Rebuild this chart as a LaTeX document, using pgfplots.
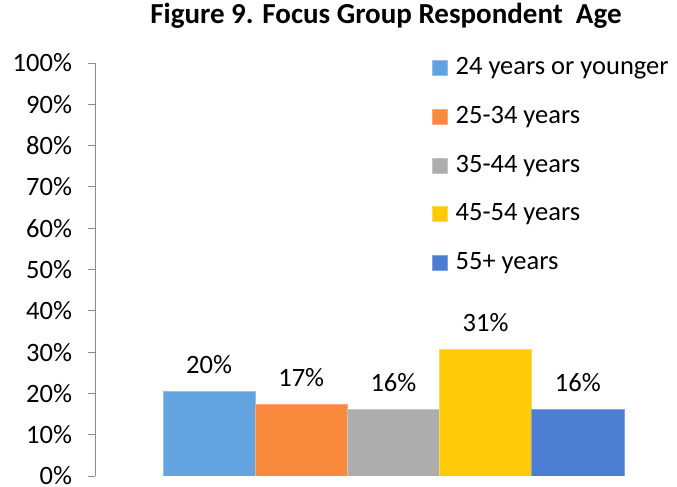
\documentclass[border=0pt]{standalone}
\usepackage{fontspec}
\setmainfont{Carlito}
\usepackage{pgfplots}
\pgfplotsset{compat=1.18}

\definecolor{cA}{HTML}{62A3E0}
\definecolor{cB}{HTML}{F9893C}
\definecolor{cC}{HTML}{ADADAD}
\definecolor{cD}{HTML}{FFCA08}
\definecolor{cE}{HTML}{4D7DD0}
\definecolor{axgray}{HTML}{8C8C8C}

\begin{document}
\fontsize{26.5bp}{31bp}\selectfont
\begin{tikzpicture}
\useasboundingbox (-95bp,-11bp) rectangle (582bp,476bp);
\begin{axis}[
    scale only axis,
    width=575bp, height=413bp,
    ybar, bar width=1, bar shift=0pt,
    xmin=-1.2375, xmax=5.0,
    ymin=0, ymax=100,
    axis x line=none,
    axis y line*=left,
    y axis line style={axgray, line width=0.9bp},
    ytick={0,10,...,100},
    yticklabel={\pgfmathprintnumber{\tick}\%},
    yticklabel style={xshift=-7bp},
    major tick length=7bp,
    tick align=outside,
    y tick style={axgray, line width=0.9bp},
    tick label style={font=\fontsize{26.5bp}{31bp}\selectfont},
    /pgf/number format/assume math mode=true,
    nodes near coords={\pgfmathprintnumber[fixed,precision=0]{\pgfplotspointmeta}\%},
    every node near coord/.append style={font=\fontsize{26.5bp}{31bp}\selectfont, black, anchor=base, yshift=18.5bp},
    title={\bfseries Figure 9. Focus Group Respondent \ Age},
    title style={at={(0.506,1.080)}, anchor=base, inner sep=0pt, font=\fontsize{29bp}{34bp}\selectfont},
    legend image code/.code={\fill[#1] (0bp,-7.5bp) rectangle (15bp,7.5bp); \path (21bp,0bp);},
    legend style={at={(0.586,1.018)}, anchor=north west, draw=none, fill=none,
        font=\fontsize{26.5bp}{31bp}\selectfont, row sep=23.5bp,
        inner sep=0pt, outer sep=0pt},
    legend cell align=left,
]
\addplot[fill=cA, draw=cA!70!white, line width=0.7bp] coordinates {(0,20.4)};
\addplot[fill=cB, draw=cB!70!white, line width=0.7bp] coordinates {(1,17.3)};
\addplot[fill=cC, draw=cC!70!white, line width=0.7bp] coordinates {(2,16.1)};
\addplot[fill=cD, draw=cD!70!white, line width=0.7bp] coordinates {(3,30.6)};
\addplot[fill=cE, draw=cE!70!white, line width=0.7bp] coordinates {(4,16.1)};
\legend{24 years or younger, 25-34 years, 35-44 years, 45-54 years, 55+ years}
\end{axis}
\end{tikzpicture}
\end{document}
